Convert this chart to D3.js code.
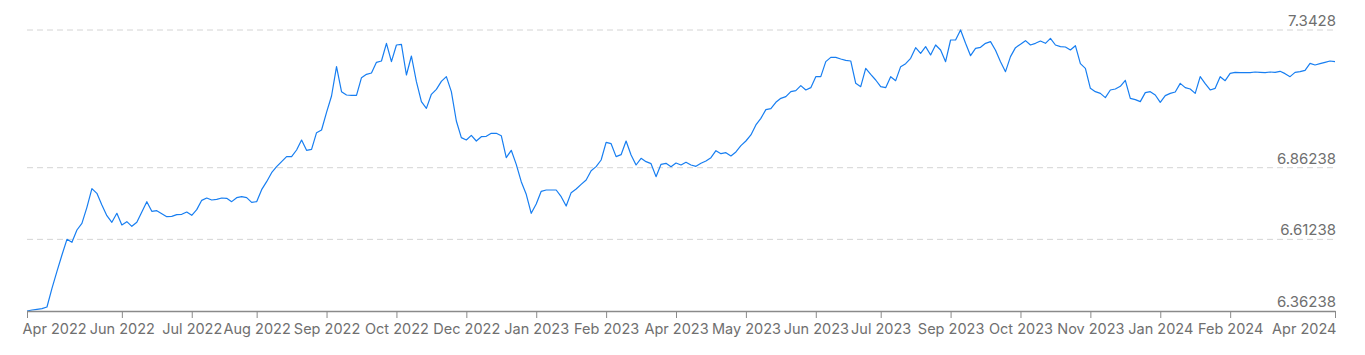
<!DOCTYPE html>
<html>
<head>
<meta charset="utf-8">
<script src="https://cdn.jsdelivr.net/npm/d3@7"></script>
<style>
  body { margin: 0; background: #fff; }
  #plot { width: 1365px; height: 355px; }
  text { font-family: Inter, "Noto Sans", sans-serif; }
</style>
</head>
<body>
<div id="plot" class="canvas"></div>
<script>
// daily rate, sampled evenly along the axis
var rates = [
  6.3624, 6.3659, 6.3682, 6.3705, 6.3764, 6.4415, 6.5008, 6.5578, 6.6124, 6.6020,
  6.6450, 6.6683, 6.7241, 6.7892, 6.7729, 6.7322, 6.6950, 6.6718, 6.7032, 6.6625,
  6.6741, 6.6578, 6.6718, 6.7078, 6.7439, 6.7101, 6.7125, 6.7020, 6.6915, 6.6927,
  6.6985, 6.6997, 6.7078, 6.6962, 6.7160, 6.7485, 6.7567, 6.7497, 6.7520, 6.7567,
  6.7555, 6.7439, 6.7578, 6.7613, 6.7578, 6.7415, 6.7439, 6.7857, 6.8136, 6.8450,
  6.8660, 6.8834, 6.9009, 6.9009, 6.9241, 6.9590, 6.9230, 6.9265, 6.9846, 6.9939,
  7.0555, 7.1125, 7.2149, 7.1277, 7.1160, 7.1149, 7.1149, 7.1765, 7.1881, 7.1928,
  7.2300, 7.2347, 7.2963, 7.2323, 7.2905, 7.2928, 7.1858, 7.2521, 7.1625, 7.0928,
  7.0695, 7.1184, 7.1358, 7.1637, 7.1800, 7.1277, 7.0253, 6.9672, 6.9590, 6.9753,
  6.9555, 6.9706, 6.9718, 6.9823, 6.9823, 6.9741, 6.8974, 6.9230, 6.8741, 6.8136,
  6.7695, 6.7032, 6.7357, 6.7799, 6.7846, 6.7846, 6.7846, 6.7613, 6.7287, 6.7753,
  6.7881, 6.8043, 6.8195, 6.8520, 6.8660, 6.8892, 6.9509, 6.9462, 6.9009, 6.9078,
  6.9555, 6.9067, 6.8718, 6.8951, 6.8834, 6.8764, 6.8311, 6.8741, 6.8776, 6.8660,
  6.8788, 6.8718, 6.8811, 6.8718, 6.8671, 6.8776, 6.8858, 6.8974, 6.9218, 6.9113,
  6.9148, 6.9032, 6.9172, 6.9392, 6.9555, 6.9765, 7.0114, 7.0346, 7.0649, 7.0683,
  7.0904, 7.1044, 7.1102, 7.1277, 7.1311, 7.1486, 7.1335, 7.1416, 7.1800, 7.1800,
  7.2323, 7.2474, 7.2474, 7.2416, 7.2370, 7.2347, 7.1567, 7.1451, 7.2091, 7.1881,
  7.1684, 7.1451, 7.1416, 7.1800, 7.1660, 7.2149, 7.2253, 7.2440, 7.2812, 7.2614,
  7.2846, 7.2556, 7.2905, 7.2730, 7.2323, 7.3079, 7.3079, 7.3428, 7.2963, 7.2533,
  7.2788, 7.2823, 7.2963, 7.3021, 7.2719, 7.2323, 7.1974, 7.2498, 7.2812, 7.2928,
  7.3056, 7.2905, 7.2963, 7.3044, 7.2963, 7.3137, 7.2905, 7.2846, 7.2835, 7.2730,
  7.2881, 7.2253, 7.2091, 7.1393, 7.1277, 7.1218, 7.1067, 7.1335, 7.1370, 7.1463,
  7.1672, 7.1044, 7.0997, 7.0928, 7.1242, 7.1277, 7.1160, 7.0904, 7.1137, 7.1218,
  7.1265, 7.1567, 7.1416, 7.1370, 7.1218, 7.1800, 7.1556, 7.1335, 7.1393, 7.1800,
  7.1660, 7.1916, 7.1951, 7.1939, 7.1939, 7.1939, 7.1963, 7.1951, 7.1939, 7.1963,
  7.1951, 7.1986, 7.1905, 7.1800, 7.1951, 7.1974, 7.2021, 7.2265, 7.2207, 7.2253,
  7.2300, 7.2347, 7.2323
];

var tickLabels = ['Apr 2022','Jun 2022','Jul 2022','Aug 2022','Sep 2022','Oct 2022',
  'Dec 2022','Jan 2023','Feb 2023','Apr 2023','May 2023','Jun 2023','Jul 2023',
  'Sep 2023','Oct 2023','Nov 2023','Jan 2024','Feb 2024','Apr 2024'];
// sample index where each month label sits
var tickAt = [0, 19, 33, 46, 60, 74, 88, 102, 116, 130, 144, 158, 171, 185, 199, 213, 227, 241, 262];

var yTicks = [6.36238, 6.61238, 6.86238, 7.3428];

var margin = {t:30, r:30, b:44, l:27};
var W = 1365, H = 355;

var svg = d3.select('#plot')
  .append('svg')
  .attr('width', W)
  .attr('height', H);

var x = d3.scaleLinear()
  .domain([0, rates.length-1])
  .range([margin.l, W-margin.r]);

var y = d3.scaleLinear()
  .domain(d3.extent(yTicks))
  .range([H-margin.b, margin.t]);

// dashed grid lines (bottom one is covered by the axis)
svg.append('g')
  .selectAll('line')
  .data(yTicks.slice(1))
  .enter()
  .append('line')
  .attr('x1', margin.l)
  .attr('x2', W-margin.r)
  .attr('y1', function(d){ return y(d); })
  .attr('y2', function(d){ return y(d); })
  .style('stroke', '#d4d4d4')
  .style('stroke-width', '1px')
  .style('stroke-dasharray', '6,4');

// value labels on the right
svg.append('g')
  .selectAll('text')
  .data(yTicks)
  .enter()
  .append('text')
  .attr('x', W-margin.r+1)
  .attr('y', function(d){ return y(d)-4; })
  .attr('text-anchor', 'end')
  .style('font-size', '15px')
  .style('fill', '#6f6f6f')
  .text(function(d){ return d; });

// the line
var line = d3.line()
  .x(function(d,i){ return x(i); })
  .y(function(d){ return y(d); });

svg.append('path')
  .datum(rates)
  .attr('d', line)
  .style('fill', 'none')
  .style('stroke', '#177ef1')
  .style('stroke-width', '1.2px')
  .style('stroke-linejoin', 'round');

// bottom axis
var xAxis = d3.axisBottom(x)
  .tickValues(tickAt)
  .tickFormat(function(d,i){ return tickLabels[i]; })
  .tickSizeInner(7)
  .tickSizeOuter(0)
  .tickPadding(6);

var ax = svg.append('g')
  .attr('transform', 'translate(0,' + (H-margin.b) + ')')
  .call(xAxis);

ax.select('.domain').style('stroke', '#8a8a8a').style('stroke-width', '1.5px');
ax.selectAll('.tick line').style('stroke', '#8a8a8a');
ax.selectAll('.tick text')
  .style('font-size', '14.5px')
  .style('fill', '#6f6f6f')
  .style('font-family', 'Inter, "Noto Sans", sans-serif');

// first and last labels sit inside the plot edges
ax.selectAll('.tick text')
  .filter(function(d,i){ return i === 0; })
  .attr('text-anchor', 'start')
  .attr('dx', -5);
ax.selectAll('.tick text')
  .filter(function(d,i){ return i === tickAt.length-1; })
  .attr('text-anchor', 'end')
  .attr('dx', 1);
</script>
</body>
</html>
